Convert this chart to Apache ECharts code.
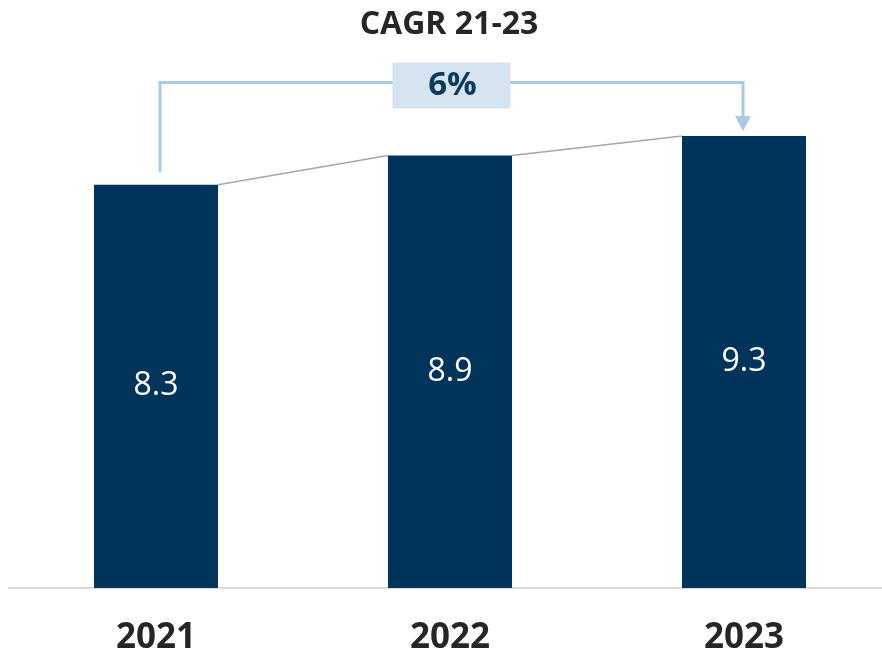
<!DOCTYPE html>
<html>
<head>
<meta charset="utf-8">
<script src="https://cdn.jsdelivr.net/npm/echarts@6/dist/echarts.min.js"></script>
<style>
  html, body { margin: 0; padding: 0; background: #fff; }
  #chart { width: 882px; height: 654px; }
</style>
</head>
<body>
<div id="chart"></div>
<script>
/* ── data ── */
const years = ["2021", "2022", "2023"];
const values = [8.3, 8.9, 9.3];
const cagrTitle = "CAGR 21-23";
const cagrLabel = "6%";
const bracketLevel = 10.4;   // y value of the bracket's horizontal run

/* ── colours ── */
const NAVY = "#00345a";
const BRACKET = "#a9c9e4";
const BOX = "#d6e4f1";
const CONNECT = "#a6a6a6";
const TEXT = "#262626";
const FONT = "Open Sans, sans-serif";
const BAR_FRAC = 0.422;

const chart = echarts.init(document.getElementById("chart"));

/* gray lines from the top-right of one bar to the top-left of the next */
function renderConnector(params, api) {
  const i = api.value(0);
  const half = api.size([1, 0])[0] * BAR_FRAC / 2;
  const a = api.coord([i, values[i]]);
  const b = api.coord([i + 1, values[i + 1]]);
  return {
    type: "line",
    shape: { x1: a[0] + half, y1: a[1], x2: b[0] - half, y2: b[1] },
    style: { stroke: CONNECT, lineWidth: 1.5 },
  };
}

/* CAGR bracket: up from first bar, across, arrow down onto last bar */
function renderBracket(params, api) {
  const from = api.value(0);
  const to = api.value(1);
  const a = api.coord([from, values[from]]);
  const b = api.coord([to, values[to]]);
  const yTop = api.coord([from, bracketLevel])[1];
  const x1 = a[0] + 4;
  const x2 = b[0] - 1;
  const startY = a[1] - 13;
  const tipY = b[1] - 5;
  const headH = 15;
  const midX = (x1 + x2) / 2;
  const boxW = 118, boxH = 46;
  return {
    type: "group",
    children: [
      {
        type: "polyline",
        shape: { points: [[x1, startY], [x1, yTop], [x2, yTop], [x2, tipY - headH + 1]] },
        style: { stroke: BRACKET, lineWidth: 3, fill: null },
      },
      {
        type: "polygon",
        shape: { points: [[x2 - 8, tipY - headH], [x2 + 8, tipY - headH], [x2, tipY]] },
        style: { fill: BRACKET },
      },
      {
        type: "rect",
        shape: { x: midX - boxW / 2, y: yTop - 20, width: boxW, height: boxH },
        style: { fill: BOX },
      },
      {
        type: "text",
        x: midX + 1, y: yTop + 3,
        style: {
          text: cagrLabel, fill: "#0d3a5c", font: `bold 33px ${FONT}`,
          align: "center", verticalAlign: "middle",
        },
      },
    ],
  };
}

chart.setOption({
  animation: false,
  title: {
    text: cagrTitle,
    left: 444, top: 4, textAlign: "center",
    textStyle: { fontFamily: FONT, fontWeight: "bold", fontSize: 32, color: TEXT },
  },
  grid: { left: 9, right: -9, top: 0, bottom: 66, outerBoundsMode: "none" },
  xAxis: {
    type: "category",
    data: years,
    axisLine: { lineStyle: { color: "#d9d9d9", width: 2 } },
    axisTick: { show: false },
    axisLabel: { color: TEXT, fontFamily: FONT, fontWeight: "bold", fontSize: 35, margin: 33 },
  },
  yAxis: { type: "value", min: 0, max: 12.1, show: false, splitLine: { show: false } },
  series: [
    {
      type: "bar",
      data: values,
      barWidth: (BAR_FRAC * 100) + "%",
      itemStyle: { color: NAVY },
      label: {
        show: true, position: "inside", color: "#fff",
        fontFamily: FONT, fontSize: 32,
        formatter: (p) => p.value.toFixed(1),
      },
      z: 2,
    },
    {
      type: "custom",
      renderItem: renderConnector,
      data: [[0], [1]],
      encode: { x: 0 },
      silent: true,
      z: 3,
    },
    {
      type: "custom",
      renderItem: renderBracket,
      data: [[0, 2]],
      encode: { x: [0, 1] },
      silent: true,
      z: 4,
    },
  ],
});
</script>
</body>
</html>
